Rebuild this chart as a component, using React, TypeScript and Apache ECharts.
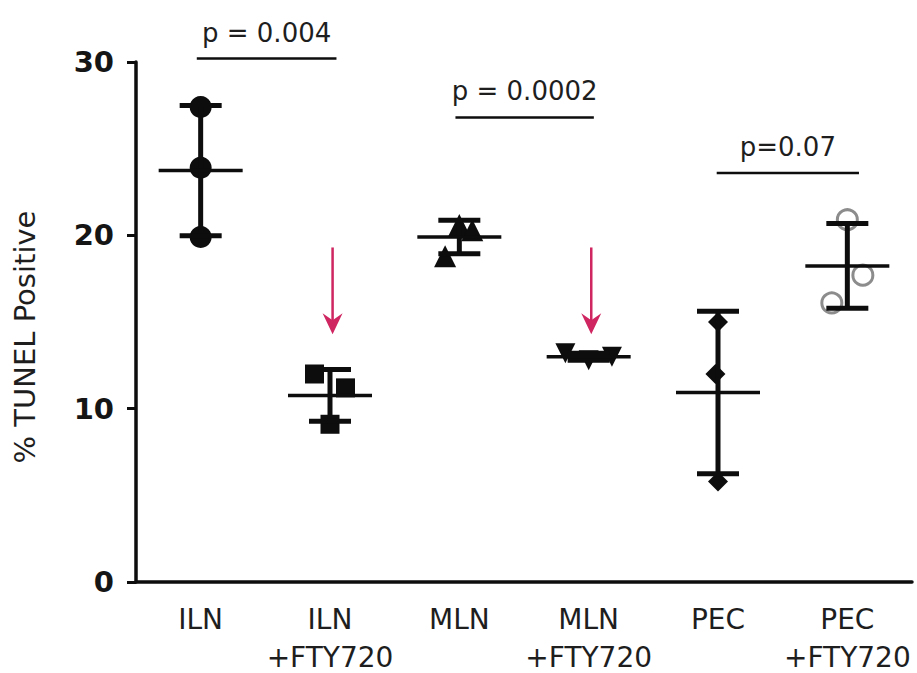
import React, { useEffect, useRef } from 'react';
import * as echarts from 'echarts';

// ---- data ----
const categories = ['ILN', 'ILN\n+FTY720', 'MLN', 'MLN\n+FTY720', 'PEC', 'PEC\n+FTY720'];
const ilnValues = [27.4, 23.9, 19.9];
const ilnFtyValues = [12.0, 11.2, 9.1];
const mlnValues = [20.6, 20.3, 18.8];
const mlnFtyValues = [13.2, 12.8, 13.0];
const pecValues = [15.0, 12.0, 5.8];
const pecFtyValues = [20.9, 17.7, 16.1];
const groupValues = [ilnValues, ilnFtyValues, mlnValues, mlnFtyValues, pecValues, pecFtyValues];
// horizontal jitter of points (category units)
const groupJitter = [
  [0, 0, 0],
  [-0.12, 0.12, 0],
  [0, 0.1, -0.11],
  [-0.18, 0, 0.18],
  [0, -0.02, 0],
  [0, 0.12, -0.12],
];
const yMin = 0;
const yMax = 30;
const yInterval = 10;
const yAxisTitle = '% TUNEL Positive';
const pLabels = ['p = 0.004', 'p = 0.0002', 'p=0.07'];
const pLevels = [30.2, 26.8, 23.6];
const pSpans = [[-0.03, 1.05], [1.97, 3.04], [3.99, 5.09]];
const arrowGroups = [1, 3];
const arrowFrom = 19.3;
const arrowTo = 14.3;

// ---- styles ----
const FONT = 'DejaVu Sans';
const INK = '#0d0d0d';
const symbols = ['circle', 'rect', 'triangle', 'triangle', 'diamond', 'circle'];
const symbolRotations = [0, 0, 0, 180, 0, 0];
const symbolSizes = [22, 19, 22, 20, 20, 20];

function meanOf(a: number[]) {
  return a.reduce((s, v) => s + v, 0) / a.length;
}
function sdOf(a: number[]) {
  const m = meanOf(a);
  return Math.sqrt(a.reduce((s, v) => s + (v - m) * (v - m), 0) / (a.length - 1));
}

export default function App() {
  const ref = useRef<HTMLDivElement>(null);
  useEffect(() => {
    if (!ref.current) return;
    const chart = echarts.init(ref.current, null, { renderer: 'svg' });

    const scatterSeries = groupValues.map((vals, g) => ({
      type: 'scatter',
      xAxisIndex: 1,
      yAxisIndex: 0,
      symbol: symbols[g],
      symbolRotate: symbolRotations[g],
      symbolSize: symbolSizes[g],
      z: 2,
      itemStyle:
        g === 5
          ? { color: 'rgba(255,255,255,0)', borderColor: '#8c8c8c', borderWidth: 3, opacity: 1 }
          : { color: INK, opacity: 1 },
      data: vals.map((v, k) => [g + groupJitter[g][k], v]),
    }));

    const statData = groupValues.map((vals, g) => [g, meanOf(vals), sdOf(vals)]);

    const option: any = {
      animation: false,
      grid: { left: 136, right: 5, top: 62, bottom: 91, outerBoundsMode: 'none' },
      xAxis: [
        {
          type: 'category',
          data: categories,
          boundaryGap: true,
          axisLine: { lineStyle: { color: INK, width: 3.5 } },
          axisTick: { alignWithLabel: true, length: 12, lineStyle: { color: INK, width: 3.5 } },
          axisLabel: {
            interval: 0,
            margin: 18,
            fontFamily: FONT,
            fontSize: 28,
            lineHeight: 38,
            color: '#1e1e1e',
          },
          splitLine: { show: false },
        },
        { type: 'value', min: -0.5, max: 5.5, show: false },
      ],
      yAxis: {
        type: 'value',
        min: yMin,
        max: yMax,
        interval: yInterval,
        axisLine: { show: true, onZero: false, lineStyle: { color: INK, width: 3.5 } },
        axisTick: { show: true, length: 9, lineStyle: { color: INK, width: 3 } },
        axisLabel: {
          margin: 22,
          fontFamily: FONT,
          fontSize: 29,
          fontWeight: 'bold',
          color: '#151515',
        },
        splitLine: { show: false },
      },
      graphic: [
        {
          type: 'text',
          x: 25,
          y: 337,
          rotation: Math.PI / 2,
          style: {
            text: yAxisTitle,
            font: `29px "${FONT}"`,
            fill: '#1e1e1e',
            textAlign: 'center',
            textVerticalAlign: 'middle',
          },
        },
      ],
      series: [
        ...scatterSeries,
        {
          type: 'custom',
          xAxisIndex: 1,
          yAxisIndex: 0,
          z: 3,
          encode: { x: 0, y: 1 },
          data: statData,
          renderItem: (params: any, api: any) => {
            const x = api.value(0);
            const m = api.value(1);
            const sd = api.value(2);
            const top = api.coord([x, m + sd]);
            const bot = api.coord([x, m - sd]);
            const mid = api.coord([x, m]);
            const st = { stroke: INK, lineWidth: 5 };
            return {
              type: 'group',
              children: [
                { type: 'line', shape: { x1: top[0], y1: top[1], x2: bot[0], y2: bot[1] }, style: st },
                { type: 'line', shape: { x1: top[0] - 21, y1: top[1], x2: top[0] + 21, y2: top[1] }, style: st },
                { type: 'line', shape: { x1: bot[0] - 21, y1: bot[1], x2: bot[0] + 21, y2: bot[1] }, style: st },
                {
                  type: 'line',
                  shape: { x1: mid[0] - 42, y1: mid[1], x2: mid[0] + 42, y2: mid[1] },
                  style: { stroke: INK, lineWidth: 3.5 },
                },
              ],
            };
          },
        },
        {
          type: 'custom',
          xAxisIndex: 1,
          yAxisIndex: 0,
          z: 4,
          clip: false,
          encode: { x: 0, y: 2 },
          data: pLabels.map((_, i) => [pSpans[i][0], pSpans[i][1], pLevels[i]]),
          renderItem: (params: any, api: any) => {
            const a = api.coord([api.value(0), api.value(2)]);
            const b = api.coord([api.value(1), api.value(2)]);
            return {
              type: 'group',
              children: [
                {
                  type: 'line',
                  shape: { x1: a[0], y1: a[1], x2: b[0], y2: b[1] },
                  style: { stroke: INK, lineWidth: 2.5 },
                },
                {
                  type: 'text',
                  x: (a[0] + b[0]) / 2,
                  y: a[1] - 26,
                  style: {
                    text: pLabels[params.dataIndex],
                    font: `26px "${FONT}"`,
                    fill: '#1e1e1e',
                    textAlign: 'center',
                    textVerticalAlign: 'middle',
                  },
                },
              ],
            };
          },
        },
        {
          type: 'custom',
          xAxisIndex: 1,
          yAxisIndex: 0,
          z: 4,
          clip: false,
          encode: { x: 0, y: 1 },
          data: arrowGroups.map((g) => [g, arrowFrom, arrowTo]),
          renderItem: (params: any, api: any) => {
            const p1 = api.coord([api.value(0) + 0.02, api.value(1)]);
            const p2 = api.coord([api.value(0) + 0.02, api.value(2)]);
            const red = '#cf2560';
            return {
              type: 'group',
              children: [
                {
                  type: 'line',
                  shape: { x1: p1[0], y1: p1[1], x2: p2[0], y2: p2[1] - 12 },
                  style: { stroke: red, lineWidth: 2.5 },
                },
                {
                  type: 'polygon',
                  shape: {
                    points: [
                      [p2[0], p2[1]],
                      [p2[0] - 10, p2[1] - 21],
                      [p2[0], p2[1] - 14],
                      [p2[0] + 10, p2[1] - 21],
                    ],
                  },
                  style: { fill: red },
                },
              ],
            };
          },
        },
      ],
    };

    chart.setOption(option);
    return () => chart.dispose();
  }, []);

  return (
    <div
      ref={ref}
      style={{ position: 'fixed', left: 0, top: 0, width: 917, height: 673, background: '#ffffff' }}
    />
  );
}
